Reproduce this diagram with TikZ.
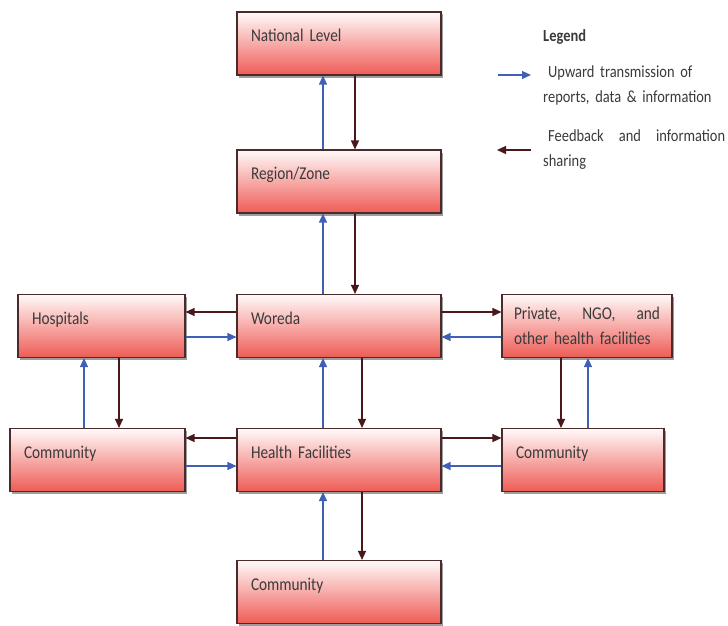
\documentclass[tikz,border=0pt]{standalone}
\usepackage{fontspec}
\setmainfont{Carlito}[FakeStretch=0.85, WordSpace=0.8]
\usetikzlibrary{arrows.meta,shadows}
\definecolor{boxtop}{HTML}{FFFAFA}
\definecolor{boxmid}{HTML}{F9CFCC}
\definecolor{boxbot}{HTML}{EF5B55}
\definecolor{boxedge}{HTML}{4A2A2A}
\definecolor{txt}{HTML}{3A3A3A}
\definecolor{upblue}{HTML}{4060B8}
\definecolor{fbdark}{HTML}{4A1818}
\tikzset{
  box/.style={draw=boxedge, line width=1.1pt, rectangle, minimum height=63pt,
    top color=boxtop, middle color=boxmid, bottom color=boxbot,
    drop shadow={shadow xshift=2pt, shadow yshift=-2.5pt, fill=black!70, opacity=0.55},
    text=txt, font=\fontsize{18}{22}\selectfont, align=left, inner xsep=14pt},
  lbl/.style={text depth=16pt},
  up/.style={draw=upblue, line width=1.2pt, -{Triangle[length=9pt,width=8pt]}},
  fb/.style={draw=fbdark, line width=1.2pt, -{Triangle[length=9pt,width=8pt]}},
  legtxt/.style={text=txt, font=\fontsize{17}{25}\selectfont, anchor=north west, inner sep=0pt, align=left}
}
\begin{document}
\begin{tikzpicture}[x=1pt,y=1pt]
\useasboundingbox (0,0) rectangle (728,-626);
\node[box, lbl, minimum width=204pt, text width=176pt] (nat) at (339,-43.5) {National Level};
\node[box, lbl, minimum width=204pt, text width=176pt] (reg) at (339,-181.5) {Region/Zone};
\node[box, lbl, minimum width=204pt, text width=176pt] (wor) at (339,-326) {Woreda};
\node[box, lbl, minimum width=167pt, text width=139pt] (hos) at (101.5,-326) {Hospitals};
\node[box, minimum width=170pt, text width=146pt, inner xsep=12pt, font=\fontsize{18}{25}\selectfont] (pri) at (587,-326) {Private,\hfill NGO,\hfill and\\other health facilities};
\node[box, lbl, minimum width=175pt, text width=147pt] (comL) at (97.5,-460) {Community};
\node[box, lbl, minimum width=204pt, text width=176pt] (hf) at (339,-460) {Health Facilities};
\node[box, lbl, minimum width=162pt, text width=134pt] (comR) at (583,-460) {Community};
\node[box, lbl, minimum width=204pt, text width=176pt] (comB) at (339,-592) {Community};

% vertical centre column
\draw[up] ([xshift=-16pt]reg.north) -- ([xshift=-16pt]nat.south);
\draw[fb] ([xshift=16pt]nat.south) -- ([xshift=16pt]reg.north);
\draw[up] ([xshift=-16pt]wor.north) -- ([xshift=-16pt]reg.south);
\draw[fb] ([xshift=16pt]reg.south) -- ([xshift=16pt]wor.north);
\draw[up] ([xshift=-16pt]hf.north) -- ([xshift=-16pt]wor.south);
\draw[fb] ([xshift=23pt]wor.south) -- ([xshift=23pt]hf.north);
\draw[up] ([xshift=-16pt]comB.north) -- ([xshift=-16pt]hf.south);
\draw[fb] ([xshift=23pt]hf.south) -- ([xshift=23pt]comB.north);

% Woreda row
\draw[fb] ([yshift=14pt]wor.west) -- ([yshift=14pt]wor.west -| hos.east);
\draw[up] ([yshift=-11pt]hos.east) -- ([yshift=-11pt]hos.east -| wor.west);
\draw[fb] ([yshift=14pt]wor.east) -- ([yshift=14pt]wor.east -| pri.west);
\draw[up] ([yshift=-11pt]pri.west) -- ([yshift=-11pt]pri.west -| wor.east);

% Health facilities row
\draw[fb] ([yshift=22pt]hf.west) -- ([yshift=22pt]hf.west -| comL.east);
\draw[up] ([yshift=-6pt]comL.east) -- ([yshift=-6pt]comL.east -| hf.west);
\draw[fb] ([yshift=22pt]hf.east) -- ([yshift=22pt]hf.east -| comR.west);
\draw[up] ([yshift=-6pt]comR.west) -- ([yshift=-6pt]comR.west -| hf.east);

% side columns
\draw[up] ([xshift=-17.5pt]hos.south |- comL.north) -- ([xshift=-17.5pt]hos.south);
\draw[fb] ([xshift=17.5pt]hos.south) -- ([xshift=17.5pt]hos.south |- comL.north);
\draw[fb] ([xshift=-26pt]pri.south) -- ([xshift=-26pt]pri.south |- comR.north);
\draw[up] ([xshift=1pt]pri.south |- comR.north) -- ([xshift=1pt]pri.south);

% legend
\node[text=txt, font=\bfseries\fontsize{17}{20}\selectfont, anchor=west, inner sep=0pt] (leg) at (543,-37) {Legend};
\coordinate (lua) at (498,-75);
\coordinate (lub) at (531,-75);
\draw[up] (lua) -- (lub);
\node[legtxt, text width=185pt] (lupt) at (543,-65) {\hspace{5pt}Upward transmission of\\reports, data \& information};
\coordinate (lfa) at (531,-150);
\coordinate (lfb) at (497,-150);
\draw[fb] (lfa) -- (lfb);
\node[legtxt, text width=182pt] (lfbt) at (543,-129) {\hspace{5pt}Feedback\hfill and\hfill information\\sharing};
\end{tikzpicture}
\end{document}
